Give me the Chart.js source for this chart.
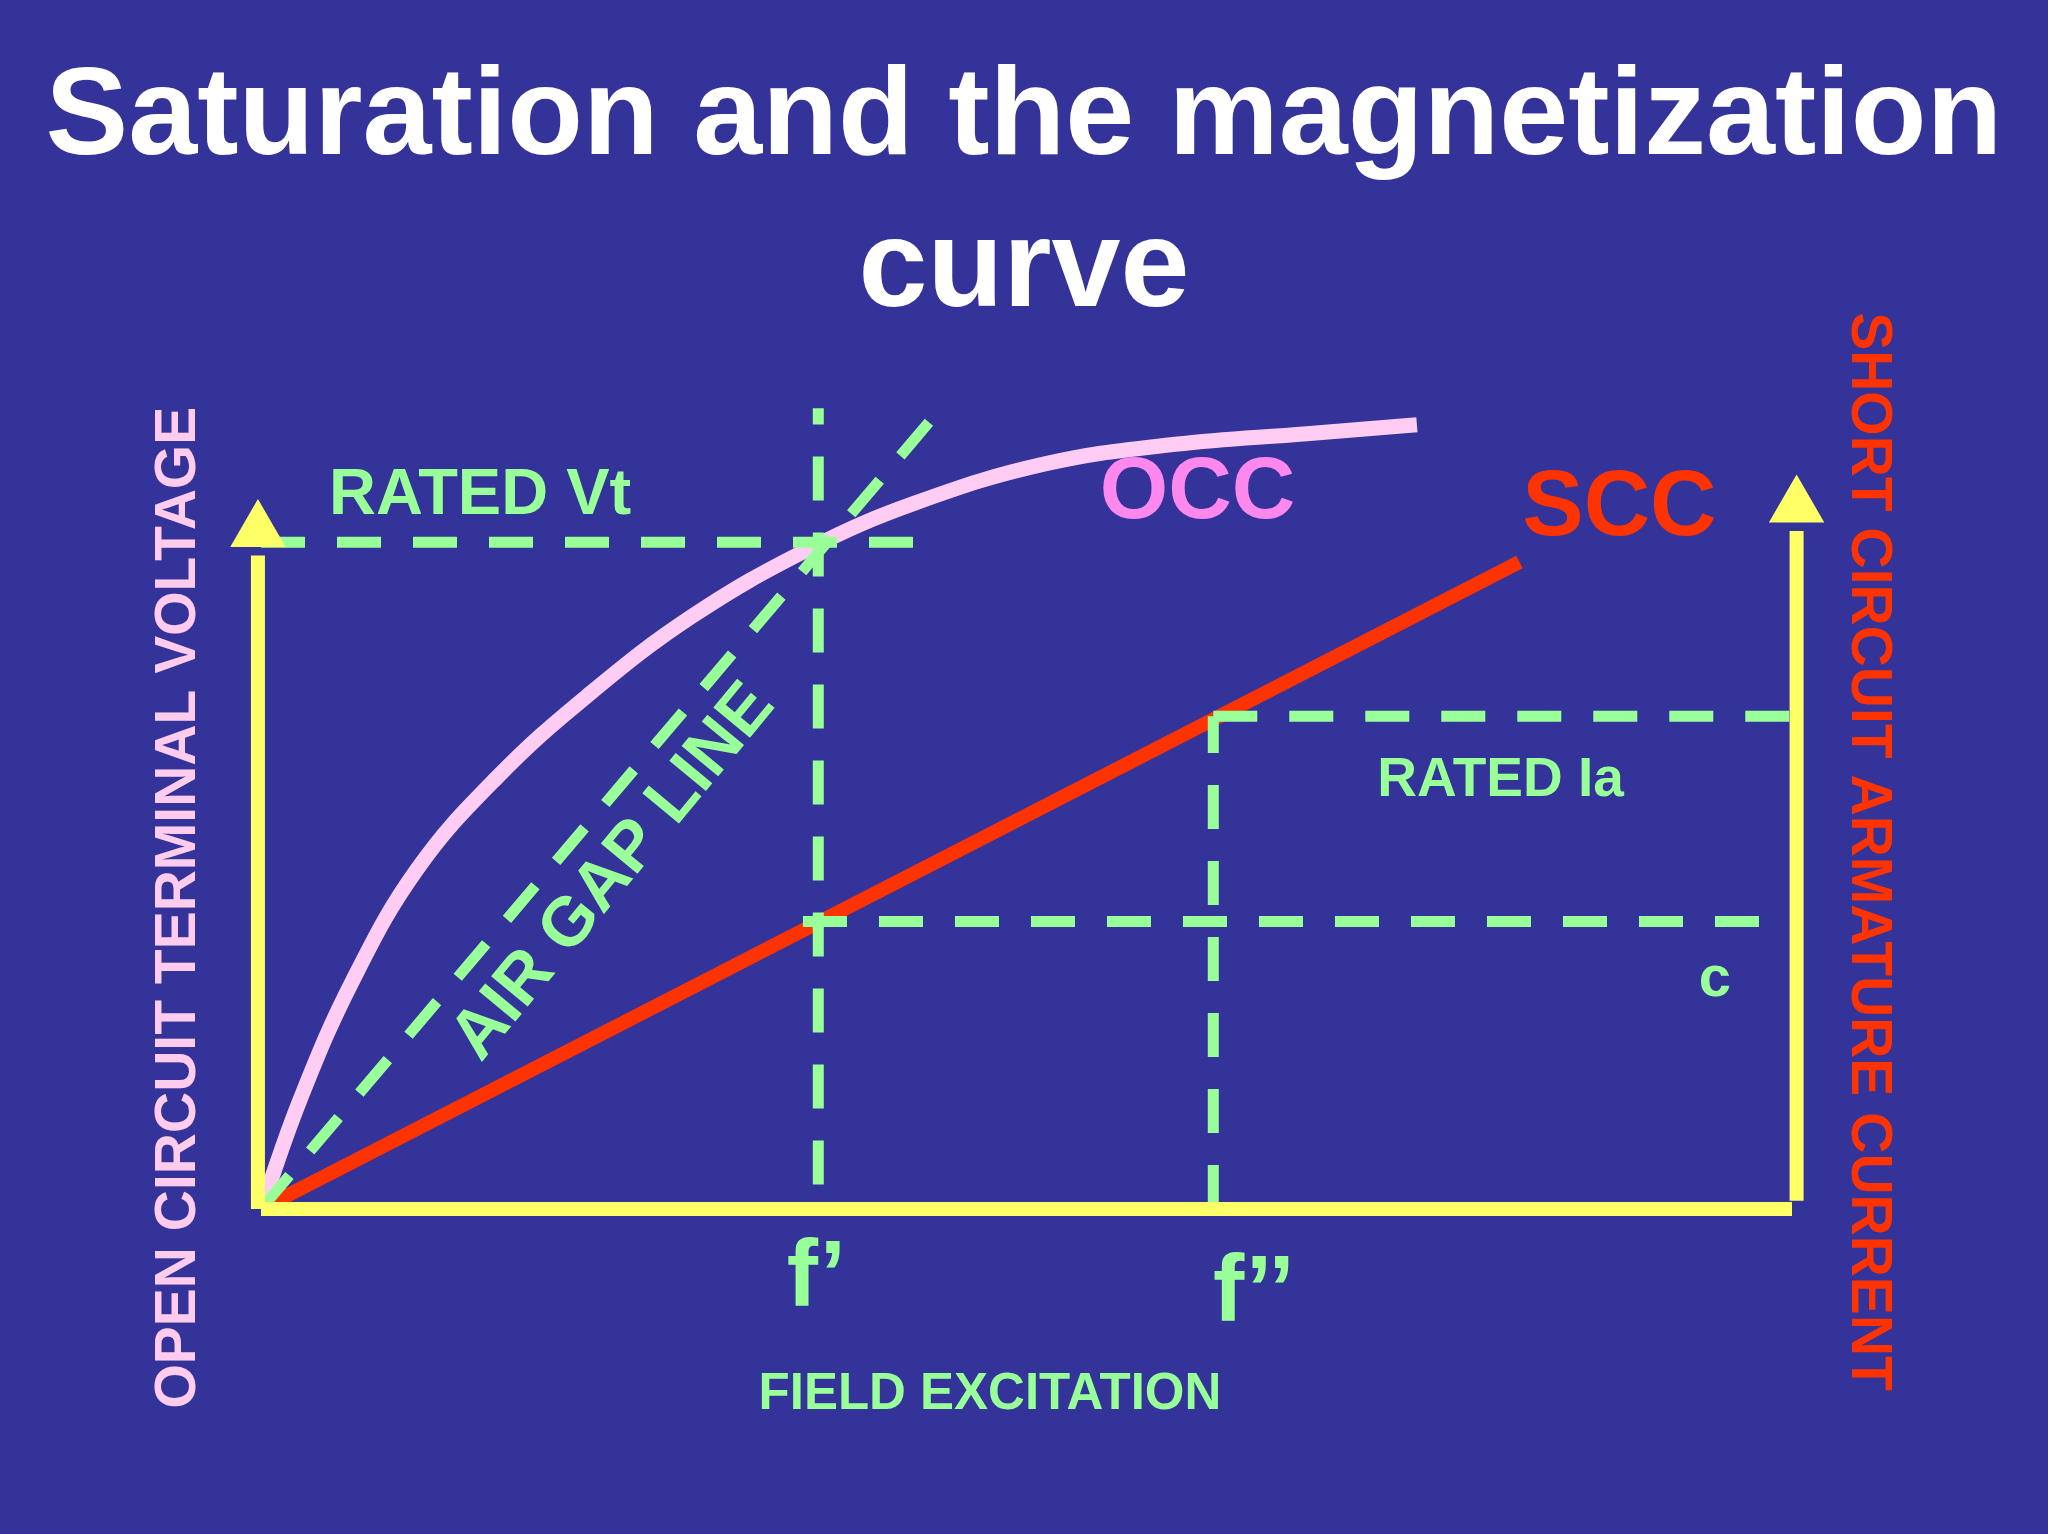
<!DOCTYPE html>
<html><head><meta charset="utf-8">
<script src="https://cdn.jsdelivr.net/npm/chart.js@4/dist/chart.umd.min.js"></script>
<style>html,body{margin:0;padding:0;background:#333399;}#w{width:2048px;height:1534px;}</style>
</head><body><div id="w"><canvas id="c"></canvas></div>
<script>
// Field excitation (x, % of axis) vs values (y, % of axis)
const occX = [0, 2.6, 6.0, 10.2, 15.4, 21.3, 28.2, 35.8, 42.7, 51.2, 59.7, 68.3, 75.5];
const occY = [0, 13.6, 28, 41.6, 52.8, 62.8, 72.6, 80.8, 86.4, 91.2, 93.6, 94.9, 96];
const sccX = [0, 82.2];
const sccY = [0, 79.2];
const airGapX = [0, 44.4];
const airGapY = [0, 98];
const fPrime = 36.4, fDouble = 62.2;
const ratedVt = 81.6, ratedIa = 60.3, cLevel = 35.2;

const pts = (xs, ys) => xs.map((x, i) => ({x, y: ys[i]}));
const green = '#99ff99', yellow = '#ffff66';
const S = 1.306;
const dash = [44, 32];

const texts = {
  id: 'texts',
  afterDraw(ch) {
    const c = ch.ctx;
    const t = (s, x, y, size, col, rot, align) => {
      c.save(); c.translate(x * S, y * S); if (rot) c.rotate(rot);
      c.font = `bold ${size}px "Liberation Sans", Arial, sans-serif`;
      c.fillStyle = col; c.textAlign = align || 'center'; c.textBaseline = 'middle';
      c.fillText(s, 0, 0); c.restore();
    };
    t('Saturation and the magnetization', 784, 92, 124, '#ffffff');
    t('curve', 784, 208, 124, '#ffffff');
    t('RATED Vt', 252, 380, 65, green, 0, 'left');
    t('OCC', 917, 378, 88, '#ff88ee');
    t('SCC', 1240, 390, 92, '#ff3300');
    t('RATED Ia', 1149, 598, 55, green);
    t('c', 1313, 750, 58, green);
    t('f\u2019', 625, 980, 94, green);
    t('f\u2019\u2019', 960, 992, 94, green);
    t('FIELD EXCITATION', 758, 1068, 51, green);
    t('OPEN CIRCUIT TERMINAL VOLTAGE', 137, 695, 57, '#ffccee', -Math.PI / 2);
    t('SHORT CIRCUIT ARMATURE CURRENT', 1430, 652, 57, '#ff3300', Math.PI / 2);
    t('AIR GAP LINE', 470, 668, 69, green, -0.88);
  }
};

const ds = (data, color, width, extra) => Object.assign({
  data, borderColor: color, borderWidth: width, pointRadius: 0, fill: false, tension: 0, borderCapStyle: 'butt'
}, extra || {});

new Chart(document.getElementById('c'), {
  type: 'line',
  data: { datasets: [
    ds([{x: 0, y: 0}, {x: 100, y: 0}], yellow, 14),
    ds([{x: -0.2, y: 0}, {x: -0.2, y: 80}], yellow, 14),
    ds([{x: -0.2, y: 83}], yellow, 0, {pointStyle: 'triangle', pointRadius: 32, pointBackgroundColor: yellow, pointBorderWidth: 0}),
    ds([{x: 100.3, y: 1}, {x: 100.3, y: 83}], yellow, 14),
    ds([{x: 100.3, y: 86}], yellow, 0, {pointStyle: 'triangle', pointRadius: 32, pointBackgroundColor: yellow, pointBorderWidth: 0}),
    ds([{x: 0, y: ratedVt}, {x: 44, y: ratedVt}], green, 11, {borderDash: dash}),
    ds([{x: fPrime, y: 3}, {x: fPrime, y: 98}], green, 11, {borderDash: dash}),
    ds([{x: fDouble, y: 0}, {x: fDouble, y: ratedIa}], green, 11, {borderDash: dash}),
    ds([{x: fDouble, y: ratedIa}, {x: 100, y: ratedIa}], green, 11, {borderDash: dash}),
    ds([{x: 35.4, y: cLevel}, {x: 100, y: cLevel}], green, 11, {borderDash: dash}),
    ds(pts(airGapX, airGapY), green, 11, {borderDash: dash}),
    ds(pts(sccX, sccY), '#ff3300', 14),
    ds(pts(occX, occY), '#ffccf4', 15, {tension: 0.4})
  ]},
  options: {
    responsive: true, maintainAspectRatio: false, animation: false,
    layout: { padding: { left: 261, right: 256, top: 392, bottom: 325 } },
    plugins: { legend: { display: false }, tooltip: { enabled: false } },
    scales: {
      x: { type: 'linear', min: 0, max: 100, display: false },
      y: { type: 'linear', min: 0, max: 100, display: false }
    },
    elements: { line: { borderJoinStyle: 'round' } },
    clip: false
  },
  plugins: [texts]
});
</script></body></html>
